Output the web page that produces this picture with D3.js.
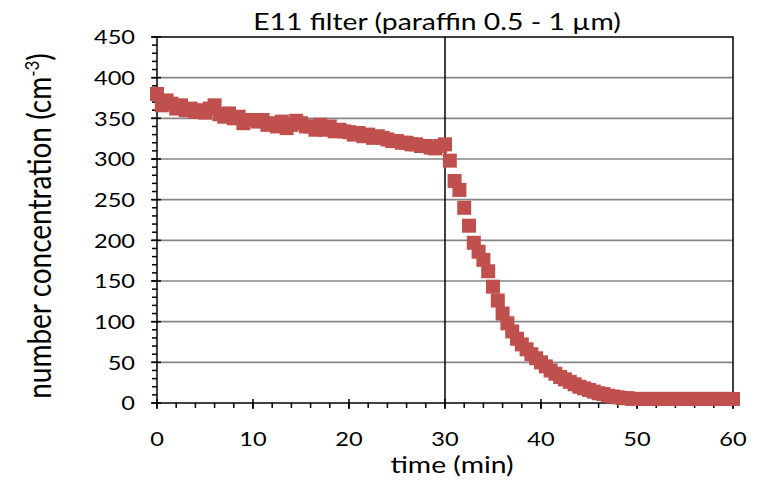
<!DOCTYPE html>
<html>
<head>
<meta charset="utf-8">
<script src="https://cdn.jsdelivr.net/npm/d3@7/dist/d3.min.js"></script>
<style>
  body { margin: 0; background: #fff; }
  text { font-family: Lato, "Open Sans", sans-serif; fill: #000; }
</style>
</head>
<body>
<div id="chart"></div>
<script>
const title = "E11 filter (paraffin 0.5 - 1 µm)";
const xLabel = "time (min)";
const yLabel = "number concentration (cm";
const yLabelSup = "-3";
const xTicks = [0, 10, 20, 30, 40, 50, 60];
const yTicks = [0, 50, 100, 150, 200, 250, 300, 350, 400, 450];
const switchTime = 30;

// time (min)
const times = [
  0, 0.5, 1, 1.5, 2, 2.5, 3, 3.5, 4, 4.5, 5, 5.5, 6, 6.5, 7, 7.5, 8, 8.5, 9, 9.5,
  10, 10.5, 11, 11.5, 12, 12.5, 13, 13.5, 14, 14.5, 15, 15.5, 16, 16.5, 17, 17.5, 18, 18.5, 19, 19.5,
  20, 20.5, 21, 21.5, 22, 22.5, 23, 23.5, 24, 24.5, 25, 25.5, 26, 26.5, 27, 27.5, 28, 28.5, 29, 29.5,
  30, 30.5, 31, 31.5, 32, 32.5, 33, 33.5, 34, 34.5, 35, 35.5, 36, 36.5, 37, 37.5, 38, 38.5, 39, 39.5,
  40, 40.5, 41, 41.5, 42, 42.5, 43, 43.5, 44, 44.5, 45, 45.5, 46, 46.5, 47, 47.5, 48, 48.5, 49, 49.5,
  50, 50.5, 51, 51.5, 52, 52.5, 53, 53.5, 54, 54.5, 55, 55.5, 56, 56.5, 57, 57.5, 58, 58.5, 59, 59.5, 60
];
// number concentration (cm-3)
const conc = [
  380, 366, 372, 368, 362, 366, 360, 362, 358, 360, 357, 362, 366, 355, 352, 356, 350, 352, 344, 348,
  348, 346, 348, 342, 344, 340, 346, 338, 342, 347, 344, 340, 340, 336, 342, 336, 340, 334, 336, 334,
  333, 330, 332, 328, 330, 326, 328, 326, 324, 322, 322, 320, 320, 318, 318, 316, 316, 314, 313, 316,
  318, 298, 273, 262, 240, 218, 197, 186, 176, 162, 143, 126, 110, 98, 88, 79, 72, 66, 60, 55,
  50, 45, 40, 36, 32, 29, 26, 23, 20, 18, 16, 14, 12, 11, 9, 8, 7, 6, 6, 5,
  5, 5, 5, 5, 5, 5, 5, 5, 5, 5, 5, 5, 5, 5, 5, 5, 5, 5, 5, 5, 5
];

const width = 766, height = 486;
const margin = { top: 37, right: 33, bottom: 83, left: 157 };
const textStretch = 1.18; // the source chart is drawn wider than tall

const svg = d3.select("#chart").append("svg")
  .attr("width", width)
  .attr("height", height);

const x = d3.scaleLinear().domain([0, 60]).range([margin.left, width - margin.right]);
const y = d3.scaleLinear().domain([0, 450]).range([height - margin.bottom, margin.top]);

// horizontal gridlines
svg.append("g")
  .selectAll("line")
  .data(yTicks.filter(d => d > 0 && d < 450))
  .join("line")
  .attr("x1", x(0)).attr("x2", x(60))
  .attr("y1", d => y(d)).attr("y2", d => y(d))
  .attr("stroke", "#868686")
  .attr("stroke-width", 1.6);

// frame: top and right
svg.append("path")
  .attr("d", `M${x(0)},${y(450)}H${x(60)}V${y(0)}`)
  .attr("fill", "none")
  .attr("stroke", "#000")
  .attr("stroke-width", 1.5);

// vertical line at the moment the filter is switched
svg.append("line")
  .attr("x1", x(switchTime)).attr("x2", x(switchTime))
  .attr("y1", y(450)).attr("y2", y(0))
  .attr("stroke", "#000")
  .attr("stroke-width", 1.5);

// y axis
const yAxis = svg.append("g");
yAxis.append("line")
  .attr("x1", x(0)).attr("x2", x(0))
  .attr("y1", y(0)).attr("y2", y(450))
  .attr("stroke", "#000").attr("stroke-width", 1.5);
yAxis.selectAll(".minor")
  .data(d3.range(0, 451, 10))
  .join("line")
  .attr("x1", x(0) - 5).attr("x2", x(0))
  .attr("y1", d => y(d)).attr("y2", d => y(d))
  .attr("stroke", "#000").attr("stroke-width", 1.5);
yAxis.selectAll(".major")
  .data(yTicks)
  .join("line")
  .attr("x1", x(0) - 6).attr("x2", x(0) + 4)
  .attr("y1", d => y(d)).attr("y2", d => y(d))
  .attr("stroke", "#000").attr("stroke-width", 1.5);
yAxis.selectAll("text")
  .data(yTicks)
  .join("text")
  .attr("transform", d => `translate(${x(0) - 22},${y(d)}) scale(${textStretch},1)`)
  .attr("dy", "0.36em")
  .attr("text-anchor", "end")
  .style("font-size", "20px")
  .text(d => d);

// x axis
const xAxis = svg.append("g");
xAxis.append("line")
  .attr("x1", x(0)).attr("x2", x(60))
  .attr("y1", y(0)).attr("y2", y(0))
  .attr("stroke", "#000").attr("stroke-width", 1.5);
xAxis.selectAll(".minor")
  .data(d3.range(0, 61, 2))
  .join("line")
  .attr("x1", d => x(d)).attr("x2", d => x(d))
  .attr("y1", y(0)).attr("y2", y(0) + 5)
  .attr("stroke", "#000").attr("stroke-width", 1.5);
xAxis.selectAll(".major")
  .data(xTicks)
  .join("line")
  .attr("x1", d => x(d)).attr("x2", d => x(d))
  .attr("y1", y(0) - 4).attr("y2", y(0) + 6)
  .attr("stroke", "#000").attr("stroke-width", 1.5);
xAxis.selectAll("text")
  .data(xTicks)
  .join("text")
  .attr("transform", d => `translate(${x(d)},${y(0) + 43}) scale(${textStretch},1)`)
  .attr("text-anchor", "middle")
  .style("font-size", "20px")
  .text(d => d);

// markers
svg.append("g")
  .selectAll("rect")
  .data(times.map((t, i) => [t, conc[i]]))
  .join("rect")
  .attr("x", d => x(d[0]) - 7)
  .attr("y", d => y(d[1]) - 7)
  .attr("width", 14)
  .attr("height", 14)
  .attr("fill", "#c0504d");

// title and axis labels
svg.append("text")
  .attr("transform", `translate(${x(30) - 8},30) scale(${textStretch},1)`)
  .attr("text-anchor", "middle")
  .style("font-size", "24px")
  .text(title);

svg.append("text")
  .attr("transform", `translate(${x(30) + 7},473) scale(${textStretch},1)`)
  .attr("text-anchor", "middle")
  .style("font-size", "24px")
  .text(xLabel);

const yl = svg.append("text")
  .attr("transform", `translate(51,${(y(0) + y(450)) / 2 + 6}) rotate(-90) scale(1,${textStretch})`)
  .attr("text-anchor", "middle")
  .style("font-size", "28px");
yl.append("tspan").text(yLabel);
yl.append("tspan").attr("dy", -10).style("font-size", "17px").text(yLabelSup);
yl.append("tspan").attr("dy", 10).text(")");
</script>
</body>
</html>
